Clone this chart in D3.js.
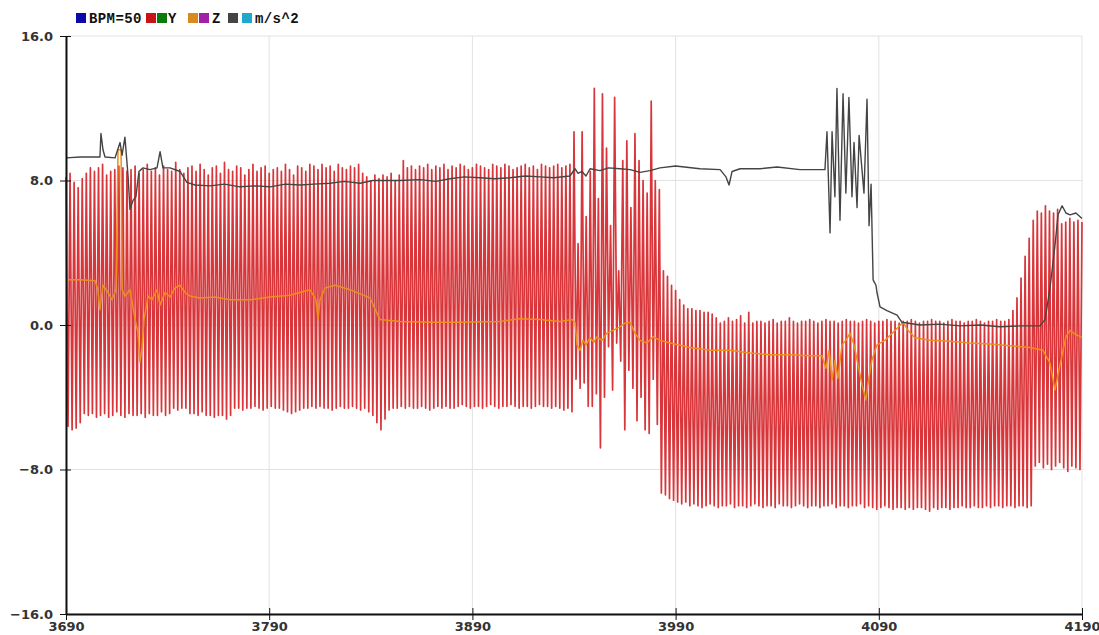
<!DOCTYPE html>
<html>
<head>
<meta charset="utf-8">
<script src="https://cdn.jsdelivr.net/npm/d3@7"></script>
<style>
  body { margin: 0; background: #fff; }
  svg { display: block; }
  .axis path, .axis line { stroke: #111; }
  .axis text { font-family: "DejaVu Sans", sans-serif; font-size: 13px; font-weight: bold; fill: #333; }
  .legend text { font-family: "Liberation Mono", monospace; font-size: 14px; font-weight: bold; fill: #111; letter-spacing: 0.4px; }
</style>
</head>
<body>
<svg id="chart"></svg>
<script>
var margin = { top: 36, right: 17, bottom: 21, left: 66 },
    width = 1099 - margin.left - margin.right,
    height = 635 - margin.top - margin.bottom;

// x ticks and y ticks
var xTicks = [3690, 3790, 3890, 3990, 4090, 4190];
var yTicks = [-16, -8, 0, 8, 16];

// legend: swatch colours and labels as on the chart
var legendItems = [
  { c: "#0a0aa8", x: 76 }, { t: "BPM=50", x: 89 },
  { c: "#c81414", x: 146 }, { c: "#0a7a0a", x: 157 }, { t: "Y", x: 168 },
  { c: "#d98a1c", x: 188 }, { c: "#a020a8", x: 199 }, { t: "Z", x: 212 },
  { c: "#444444", x: 228 }, { c: "#20a8cc", x: 242 }, { t: "m/s^2", x: 255 }
];

// red trace: one sample per x unit, alternating peaks (even offsets) and troughs (odd offsets)
var redStart = 3690;
var redHi = [
  8.2, 8.4, 7.9, 7.6, 8.1, 8.4, 8.7, 8.5, 8.7, 8.9, 8.3, 8.5,
  8.6, 8.8, 8.7, 8.5, 8.6, 8.8, 8.4, 8.6, 8.9, 8.5, 8.7, 8.3, 8.8, 8.6, 8.5, 9.0, 8.6, 8.4, 8.7,
  8.8, 8.5, 8.9, 8.6, 8.3, 8.7, 8.8, 8.4, 9.0, 8.6, 8.5, 8.8, 8.7, 8.3, 8.6, 8.9, 8.5, 8.7, 8.8, 8.4,
  8.6, 8.7, 8.5, 8.9, 8.6, 8.3, 8.8, 8.7, 8.5, 8.9,
  8.8, 8.6, 8.9, 8.7, 8.8, 8.5, 8.9, 8.7, 8.6, 8.8, 8.7, 8.9, 8.4,
  8.2, 8.0, 8.3, 8.1, 8.3, 8.2, 8.4, 8.0, 8.3,
  9.1, 8.7, 8.8, 8.6, 8.8, 8.7, 8.9, 8.6,
  8.8, 8.7, 8.9, 8.6, 8.8, 8.7, 8.9, 8.8, 8.6, 8.7, 8.9, 8.8, 8.7, 8.6, 8.9, 8.8, 8.7,
  8.9, 8.8, 8.6, 8.7, 8.8, 8.9, 8.7, 8.8, 8.6, 8.9, 8.8, 8.7, 8.8, 8.9, 8.7, 8.8, 8.9,
  10.7, 4.5, 10.7, 6.0, 8.5, 13.1, 7.0, 12.8, 9.8, 5.5, 12.6, 3.0, 9.1, 10.2, 6.5, 10.6,
  9.1, 8.0, 7.3, 12.4, 8.0, 7.5,
  3.0, 2.7, 2.2, 1.9, 1.4, 1.1, 0.9, 0.9, 0.8, 0.8, 0.7, 0.7, 0.6, 0.4, 0.1, 0.2, 0.4, 0.2,
  0.3, 0.5, 0.1, 0.7, 0.1, 0.2,
  0.2, 0.1, 0.2, 0.3, 0.1, 0.2, 0.2, 0.4, 0.2, 0.1, 0.2, 0.2, 0.3, 0.2, 0.1, 0.2, 0.3, 0.2, 0.2, 0.1,
  0.2, 0.3, 0.2, 0.2, 0.1, 0.2, 0.3, 0.2, 0.1, 0.2, 0.2, 0.3, 0.2, 0.2, 0.1, 0.2, 0.2, 0.3, 0.2, 0.1,
  0.2, 0.2, 0.3, 0.2, 0.2, 0.1, 0.2, 0.3, 0.2, 0.2, 0.1, 0.2, 0.2, 0.3, 0.2, 0.1, 0.2, 0.2, 0.3, 0.2,
  0.2, 0.3,
  0.8, 1.5, 2.6, 3.8, 4.8, 5.8, 6.3, 6.2, 6.6, 6.3, 6.2, 6.4, 5.6, 5.7, 5.9, 5.7, 5.8, 5.7
];
var redLo = [
  -5.6, -5.8, -5.7, -5.4, -4.9, -5.0,
  -4.9, -5.1, -5.0, -4.9, -5.1, -5.0, -4.8, -5.0, -5.1, -4.9, -5.0, -5.0, -4.9, -5.1, -4.9, -5.0, -5.0, -4.8, -5.0, -4.9,
  -4.6, -4.7, -4.6, -4.6,
  -4.9, -4.9, -5.0, -4.8, -5.0, -5.0, -5.1, -5.0, -5.0, -5.2, -5.0,
  -4.6, -4.6, -4.7, -4.6, -4.6, -4.5, -4.6, -4.7, -4.6, -4.5, -4.6, -4.6, -4.7, -4.8, -4.9, -4.8, -4.7, -4.6,
  -4.6, -4.5, -4.6, -4.5, -4.6, -4.6, -4.7, -4.6, -4.5, -4.6, -4.6, -4.5, -4.6, -4.7, -4.6, -4.8, -5.0,
  -5.4, -5.8, -5.2,
  -4.7, -4.6, -4.6, -4.5, -4.6, -4.5, -4.6, -4.6, -4.5, -4.6, -4.7, -4.6, -4.5, -4.6, -4.5, -4.6, -4.6, -4.5, -4.4, -4.5,
  -4.6, -4.5, -4.5, -4.6, -4.5, -4.4, -4.5, -4.6, -4.5, -4.5, -4.4, -4.5, -4.6, -4.5, -4.5, -4.6, -4.5, -4.4, -4.5, -4.5,
  -4.6, -4.5, -4.6, -4.7, -4.6, -4.8,
  -3.0, -3.5, -3.2, -4.5, -4.5, -3.8, -6.8, -4.0, -1.2, -3.6, -1.0, -2.0, -5.8, -2.5, -3.5, -5.3,
  -4.0, -5.8, -6.0, -3.0, -5.5, -9.3,
  -9.4, -9.6, -9.7, -9.8, -9.9, -9.8, -10.0, -9.9, -10.0, -10.1,
  -10.0, -9.9, -10.0, -10.1, -10.0, -10.0, -9.9, -10.1, -10.0, -10.0,
  -10.1, -10.0, -9.9, -10.0, -10.1, -10.0, -10.0, -10.1, -9.9, -10.0,
  -10.0, -10.1, -10.0, -9.9, -10.0, -10.1, -10.0, -10.0, -10.1, -10.0,
  -10.0, -9.9, -10.1, -10.0, -10.0, -10.1, -10.0, -10.0, -9.9, -10.1,
  -10.0, -10.1, -10.2, -10.1, -10.0, -10.1, -10.2, -10.1, -10.1, -10.2,
  -10.1, -10.2, -10.1, -10.1, -10.2, -10.3, -10.1, -10.2, -10.1, -10.1,
  -10.2, -10.1, -10.1, -10.0, -10.1, -10.1, -10.0, -10.1, -10.1, -10.0,
  -10.1, -10.0, -10.0, -10.1, -10.0, -10.0, -10.1, -10.0, -10.0, -10.1, -10.0,
  -7.8, -7.6, -7.9, -7.7, -8.0, -7.8, -7.6, -7.9, -8.1, -7.8, -7.9, -8.0
];

// orange trace
var orangeX = [
  3690.0, 3696.9, 3704.3, 3705.7, 3706.7, 3708.2, 3710.7, 3712.6, 3714.6, 3715.6, 3717.1, 3717.6,
  3719.0, 3721.5, 3724.0, 3725.4, 3726.4, 3727.4, 3728.4, 3730.4, 3732.3, 3734.8, 3736.3, 3738.7,
  3741.2, 3743.6, 3746.1, 3748.6, 3751.0, 3755.9, 3763.3, 3770.7, 3780.6, 3790.4, 3800.2, 3810.1,
  3813.0, 3814.0, 3815.0, 3817.5, 3822.4, 3829.8, 3839.6, 3844.5, 3854.4, 3869.1, 3883.9, 3903.6,
  3913.4, 3923.3, 3933.1, 3939.0, 3940.5, 3941.5, 3943.0, 3944.4, 3945.9, 3947.9, 3949.8, 3951.3,
  3953.8, 3956.2, 3959.2, 3962.6, 3965.1, 3967.6, 3970.0, 3972.5, 3975.9, 3978.9, 3982.3, 3987.2,
  3997.1, 4006.9, 4016.8, 4026.6, 4036.5, 4046.3, 4056.1, 4062.0, 4064.0, 4065.5, 4067.0, 4068.4,
  4069.9, 4071.9, 4073.8, 4075.8, 4077.8, 4079.8, 4081.7, 4083.7, 4084.6, 4086.6, 4089.1, 4093.0,
  4098.0, 4101.9, 4104.4, 4107.8, 4115.2, 4125.0, 4134.9, 4144.7, 4154.6, 4164.4, 4170.8, 4174.2,
  4176.7, 4178.2, 4180.2, 4182.1, 4184.1, 4186.6, 4190.0
];
var orangeY = [
  2.5, 2.5, 2.45, 1.95, 0.85, 2.2, 1.8, 1.4, 1.95, 9.7, 9.7, 1.95,
  1.6, 1.95, 0.3, -0.4, -2.05, -1.25, 0.3, 1.6, 1.4, 1.95, 1.1, 1.8,
  1.55, 2.05, 2.2, 1.8, 1.6, 1.5, 1.55, 1.4, 1.4, 1.55, 1.65, 1.95,
  1.4, 0.3, 1.4, 2.05, 2.2, 1.95, 1.5, 0.3, 0.2, 0.15, 0.15, 0.2,
  0.35, 0.3, 0.2, 0.3, 0.15, -1.1, -1.4, -0.85, -1.1, -0.7, -0.95, -0.65,
  -0.85, -0.45, -0.3, -0.1, 0.1, 0.15, -0.45, -0.85, -1.0, -0.65, -0.85, -1.0,
  -1.25, -1.4, -1.4, -1.55, -1.65, -1.65, -1.7, -1.7, -2.4, -1.4, -3.05, -1.95,
  -2.95, -1.1, -0.85, -0.45, -1.1, -2.2, -3.3, -4.15, -3.3, -1.95, -1.1, -0.85,
  -0.3, 0.15, -0.3, -0.7, -0.85, -0.9, -1.0, -1.05, -1.15, -1.25, -1.4, -2.1,
  -3.6, -2.75, -1.65, -0.65, -0.3, -0.5, -0.7
];

// dark grey trace
var grayX = [
  3690.0, 3697.0, 3706.7, 3707.2, 3708.2, 3709.2, 3714.1, 3716.6, 3717.6, 3719.0, 3720.5, 3721.5,
  3723.0, 3724.4, 3725.9, 3727.9, 3731.3, 3734.8, 3736.3, 3737.7, 3741.2, 3746.1, 3749.5, 3753.5,
  3760.9, 3768.0, 3775.6, 3783.0, 3790.4, 3798.0, 3805.2, 3812.0, 3819.9, 3827.0, 3834.7, 3841.0,
  3847.0, 3854.4, 3864.2, 3872.0, 3879.0, 3886.0, 3893.7, 3901.0, 3908.5, 3916.0, 3923.3, 3930.0,
  3938.0, 3940.5, 3942.0, 3943.9, 3945.9, 3947.9, 3952.8, 3957.0, 3962.6, 3967.6, 3972.5, 3977.4,
  3982.3, 3990.0, 4002.0, 4011.9, 4014.8, 4016.3, 4017.8, 4021.7, 4031.5, 4040.0, 4051.2, 4063.5,
  4064.5, 4066.0, 4067.0, 4068.4, 4069.4, 4070.9, 4072.4, 4073.8, 4075.3, 4076.8, 4077.8, 4079.3,
  4080.3, 4082.7, 4084.2, 4085.2, 4086.2, 4087.2, 4088.6, 4089.1, 4090.6, 4094.0, 4099.0, 4101.4,
  4110.3, 4120.0, 4130.0, 4140.0, 4149.6, 4160.0, 4169.3, 4171.8, 4174.2, 4176.7, 4178.2, 4180.2,
  4182.1, 4184.1, 4187.0, 4190.0
];
var grayY = [
  9.25, 9.3, 9.3, 10.6, 9.7, 9.3, 9.25, 10.1, 9.4, 10.4, 8.3, 6.4,
  6.9, 7.1, 8.5, 8.7, 8.6, 8.7, 9.6, 8.7, 8.7, 8.5, 7.9, 7.75,
  7.7, 7.8, 7.65, 7.7, 7.65, 7.8, 7.75, 7.8, 7.85, 7.95, 7.85, 8.0,
  8.0, 8.0, 8.05, 7.95, 8.1, 8.2, 8.15, 8.1, 8.15, 8.25, 8.2, 8.15,
  8.25, 8.65, 8.4, 8.5, 8.25, 8.65, 8.55, 8.7, 8.65, 8.6, 8.45, 8.55,
  8.7, 8.8, 8.65, 8.6, 8.2, 7.75, 8.5, 8.65, 8.65, 8.75, 8.6, 8.6,
  10.7, 5.1, 10.7, 7.1, 13.1, 5.8, 12.8, 7.3, 12.6, 7.1, 10.1, 6.5,
  10.5, 7.3, 12.5, 5.5, 7.8, 2.5, 2.2, 1.8, 1.0, 0.8, 0.55, 0.15,
  0.0, 0.05, -0.05, 0.0, -0.1, -0.05, -0.05, 0.3, 2.0, 4.4, 6.1, 6.6,
  6.2, 6.1, 6.2, 5.9
];

var svg = d3.select("#chart")
    .attr("width", width + margin.left + margin.right)
    .attr("height", height + margin.top + margin.bottom);

var g = svg.append("g")
    .attr("transform", "translate(" + margin.left + "," + margin.top + ")");

var x = d3.scaleLinear().domain([3690, 4190]).range([0, width]);
var y = d3.scaleLinear().domain([-16, 16]).range([height, 0]);

// grid
g.append("g").selectAll("line").data(xTicks).enter().append("line")
    .attr("x1", function(d) { return x(d); }).attr("x2", function(d) { return x(d); })
    .attr("y1", 0).attr("y2", height)
    .attr("stroke", "#e2e2e2").attr("stroke-width", 1);
g.append("g").selectAll("line").data(yTicks).enter().append("line")
    .attr("y1", function(d) { return y(d); }).attr("y2", function(d) { return y(d); })
    .attr("x1", 0).attr("x2", width)
    .attr("stroke", "#e2e2e2").attr("stroke-width", 1);

// build the red series from peaks and troughs
var red = [];
redHi.forEach(function(v, i) {
  red.push([redStart + 2 * i, v]);
  if (i < redLo.length) red.push([redStart + 2 * i + 1, redLo[i]]);
});
var orange = orangeX.map(function(d, i) { return [d, orangeY[i]]; });
var gray = grayX.map(function(d, i) { return [d, grayY[i]]; });

var line = d3.line()
    .x(function(d) { return x(d[0]); })
    .y(function(d) { return y(d[1]); });

g.append("path").datum(red)
    .attr("d", line).attr("fill", "none")
    .attr("stroke", "#d8363a").attr("stroke-width", 1.7).attr("stroke-linejoin", "round");
g.append("path").datum(orange)
    .attr("d", line).attr("fill", "none")
    .attr("stroke", "#ec8f1c").attr("stroke-width", 1.5).attr("stroke-linejoin", "round");
g.append("path").datum(gray)
    .attr("d", line).attr("fill", "none")
    .attr("stroke", "#444").attr("stroke-width", 1.4).attr("stroke-linejoin", "round");

// axes
var yAxis = g.append("g").attr("class", "axis")
    .call(d3.axisLeft(y).tickValues(yTicks).tickFormat(d3.format(".1f")).tickSize(6).tickSizeOuter(0).tickPadding(7));
yAxis.selectAll(".tick line").attr("x1", 5);
yAxis.select(".domain").attr("stroke-width", 2);

var xAxis = g.append("g").attr("class", "axis")
    .attr("transform", "translate(0," + height + ")")
    .call(d3.axisBottom(x).tickValues(xTicks).tickFormat(d3.format("d")).tickSize(6).tickSizeOuter(0).tickPadding(2));
xAxis.selectAll(".tick line").attr("y1", -6);
xAxis.select(".domain").attr("stroke-width", 2);

// legend
var legend = svg.append("g").attr("class", "legend");
legendItems.forEach(function(d) {
  if (d.c) {
    legend.append("rect").attr("x", d.x).attr("y", 13).attr("width", 10).attr("height", 10).attr("fill", d.c);
  } else {
    legend.append("text").attr("x", d.x).attr("y", 23).text(d.t);
  }
});
</script>
</body>
</html>
